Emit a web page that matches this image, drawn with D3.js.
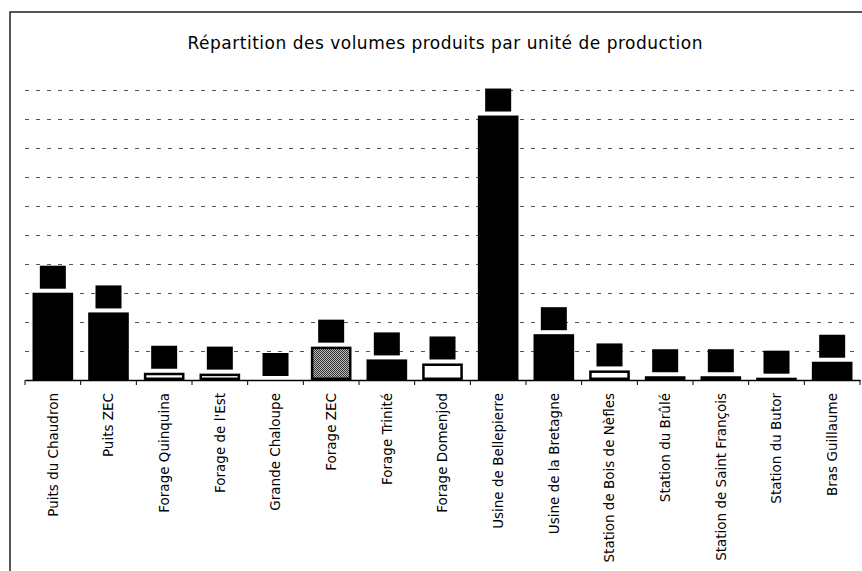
<!DOCTYPE html>
<html>
<head>
<meta charset="utf-8">
<script src="https://cdn.jsdelivr.net/npm/d3@7/dist/d3.min.js"></script>
<style>
  html, body { margin: 0; padding: 0; background: #fff; }
  svg { display: block; }
</style>
</head>
<body>
<svg id="chart" width="862" height="571"></svg>
<script>
// ---- Data ----
const categories = [
  "Puits du Chaudron", "Puits ZEC", "Forage Quinquina", "Forage de l'Est",
  "Grande Chaloupe", "Forage ZEC", "Forage Trinité", "Forage Domenjod",
  "Usine de Bellepierre", "Usine de la Bretagne", "Station de Bois de Nèfles",
  "Station du Brûlé", "Station de Saint François", "Station du Butor", "Bras Guillaume"
];
const volumes = [3.01, 2.33, 0.25, 0.22, 0, 1.15, 0.71, 0.57, 9.12, 1.58, 0.33, 0.13, 0.13, 0.08, 0.63];
const gridTicks = [1, 2, 3, 4, 5, 6, 7, 8, 9, 10];
const title = "Répartition des volumes produits par unité de production";

// ---- Styles ----
const barStyle = ["black", "black", "white", "white", "white", "gray", "black", "white",
                  "black", "black", "white", "black", "black", "black", "black"];

const svg = d3.select("#chart");
const W = 862, H = 571;
const plot = { left: 25, right: 860, top: 90, bottom: 380 };

// pattern for the grey dithered bar
const defs = svg.append("defs");
const pat = defs.append("pattern").attr("id", "dither")
  .attr("width", 2).attr("height", 2).attr("patternUnits", "userSpaceOnUse");
pat.append("rect").attr("width", 2).attr("height", 2).attr("fill", "#bbb");
pat.append("rect").attr("width", 1).attr("height", 1).attr("fill", "#333");
pat.append("rect").attr("x", 1).attr("y", 1).attr("width", 1).attr("height", 1).attr("fill", "#333");

// frame
svg.append("path")
  .attr("d", `M10,${H} L10,12 L${W},12`)
  .attr("fill", "none").attr("stroke", "#222").attr("stroke-width", 1.5);

// title
svg.append("text")
  .attr("x", 445).attr("y", 49)
  .attr("text-anchor", "middle")
  .attr("font-family", "DejaVu Sans, Verdana, sans-serif")
  .attr("font-size", 17)
  .attr("textLength", 515).attr("lengthAdjust", "spacing")
  .attr("fill", "#000")
  .text(title);

const x = d3.scaleBand().domain(categories).range([plot.left, plot.right])
  .paddingInner(0.27).paddingOuter(0.135);
const y = d3.scaleLinear().domain([0, 10]).range([plot.bottom, plot.top]);

// gridlines
svg.append("g").selectAll("line").data(gridTicks).join("line")
  .attr("x1", plot.left).attr("x2", plot.right)
  .attr("y1", d => Math.round(y(d)) + 0.5).attr("y2", d => Math.round(y(d)) + 0.5)
  .attr("stroke", "#555").attr("stroke-width", 1)
  .attr("stroke-dasharray", "4,7");

// bars
const bars = svg.append("g");
categories.forEach((c, i) => {
  const v = volumes[i];
  if (v <= 0) return;
  const st = barStyle[i];
  const x0 = x(c), w = x.bandwidth();
  const y0 = y(v), h = y(0) - y(v);
  if (st === "black") {
    bars.append("rect").attr("x", x0).attr("y", y0).attr("width", w).attr("height", h)
      .attr("fill", "#000");
  } else {
    bars.append("rect").attr("x", x0 + 1.25).attr("y", y0 + 1.25)
      .attr("width", w - 2.5).attr("height", Math.max(0, h - 2.5))
      .attr("fill", st === "gray" ? "url(#dither)" : "#fff")
      .attr("stroke", "#000").attr("stroke-width", 2.5);
  }
});

// redacted data labels (black boxes above bars)
const boxW = 26, boxH = 23, gap = 4;
svg.append("g").selectAll("rect").data(categories).join("rect")
  .attr("x", d => x(d) + x.bandwidth() / 2 - boxW / 2)
  .attr("y", (d, i) => y(volumes[i]) - gap - boxH)
  .attr("width", boxW).attr("height", boxH)
  .attr("fill", "#000");

// x axis
const xAxis = d3.axisBottom(x).tickSize(0).tickSizeOuter(0).tickFormat("");
const gx = svg.append("g").attr("transform", `translate(0,${plot.bottom})`).call(xAxis);
gx.select(".domain").attr("stroke", "#000").attr("stroke-width", 1.5);
// category boundary ticks
const bounds = d3.range(categories.length + 1).map(i => plot.left + i * x.step());
gx.append("g").selectAll("line").data(bounds).join("line")
  .attr("x1", d => d).attr("x2", d => d).attr("y1", 0).attr("y2", 5)
  .attr("stroke", "#000").attr("stroke-width", 1);

// category labels
svg.append("g").selectAll("text").data(categories).join("text")
  .attr("transform", d => `translate(${x(d) + x.bandwidth() / 2},393) rotate(-90)`)
  .attr("text-anchor", "end")
  .attr("dy", "0.35em")
  .attr("font-family", "DejaVu Sans, Verdana, sans-serif")
  .attr("font-size", 13.5)
  .attr("fill", "#000")
  .text(d => d);
</script>
</body>
</html>
